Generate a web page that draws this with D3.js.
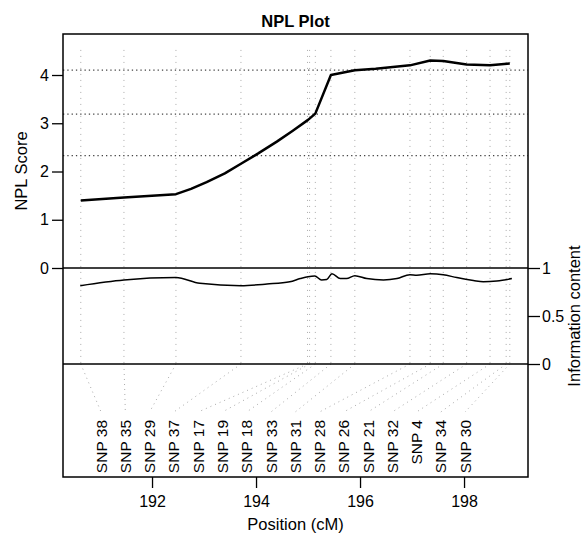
<!DOCTYPE html>
<html>
<head>
<meta charset="utf-8">
<script src="https://cdn.jsdelivr.net/npm/d3@7"></script>
<style>
  body { margin: 0; background: #fff; }
  svg text { font-family: "Liberation Sans", Arial, Helvetica, sans-serif; fill: #000; }
</style>
</head>
<body>
<div id="screen"></div>
<script>
var width = 585;
var height = 536;
var boxLeft = 63, boxRight = 528, boxTop = 34, boxBottom = 477;
var nplBottom = 268, infoBottom = 364;

// markers: name and map position (cM)
var markerNames = ["SNP 38", "SNP 35", "SNP 29", "SNP 37", "SNP 17", "SNP 19", "SNP 18", "SNP 33",
  "SNP 31", "SNP 28", "SNP 26", "SNP 21", "SNP 32", "SNP 4", "SNP 34", "SNP 30"];
var markerPos = [190.63, 191.46, 192.46, 193.71, 194.99, 195.03, 195.14, 195.44,
  195.90, 196.96, 197.35, 197.60, 198.05, 198.50, 198.81, 198.88];

// NPL score curve
var nplPos = [190.63, 191.46, 192.46, 192.75, 193.05, 193.4, 193.71, 194.05, 194.4, 194.7, 195.0, 195.14, 195.44,
  195.90, 196.3, 196.96, 197.35, 197.60, 198.05, 198.50, 198.88];
var nplScore = [1.40, 1.46, 1.53, 1.64, 1.78, 1.96, 2.16, 2.38, 2.62, 2.84, 3.07, 3.20, 4.00,
  4.10, 4.13, 4.20, 4.30, 4.29, 4.22, 4.20, 4.24];

// information content curve
var infoPos = [190.62, 191.46, 192.46, 192.92, 193.71, 194.21, 194.65, 194.85, 195.0, 195.13,
  195.26, 195.36, 195.46, 195.62, 195.74, 195.90, 196.13, 196.45, 196.71, 196.96, 197.09,
  197.35, 197.60, 197.86, 198.18, 198.37, 198.63, 198.92];
var infoVal = [0.816, 0.875, 0.90, 0.84, 0.816, 0.833, 0.857, 0.89, 0.91, 0.917,
  0.875, 0.88, 0.94, 0.89, 0.89, 0.92, 0.89, 0.875, 0.89, 0.93, 0.925,
  0.94, 0.93, 0.90, 0.87, 0.857, 0.865, 0.89];

var thresholds = [2.33, 3.19, 4.10];
var nplTicks = [0, 1, 2, 3, 4];
var infoTicks = [0, 0.5, 1];
var posTicks = [192, 194, 196, 198];

var x = d3.scaleLinear().domain([190.288, 199.23]).range([boxLeft, boxRight]);
var yNpl = d3.scaleLinear().domain([0, 4.85]).range([nplBottom, boxTop]);
var yInfo = d3.scaleLinear().domain([0, 1]).range([infoBottom, nplBottom]);
var labelX = d3.scalePoint().domain(markerNames).range([x(191.02), x(198.02)]);

var svg = d3.select("#screen").append("svg").attr("width", width).attr("height", height);

// marker grid lines
svg.append("g").selectAll("line").data(markerPos).enter().append("line")
  .attr("x1", function(d){ return x(d); }).attr("x2", function(d){ return x(d); })
  .attr("y1", yNpl(4.52)).attr("y2", infoBottom)
  .attr("stroke", "#aaa").attr("stroke-width", 1).attr("stroke-dasharray", "1,5");

// connectors from markers to labels
svg.append("g").selectAll("line").data(markerNames).enter().append("line")
  .attr("x1", function(d, i){ return x(markerPos[i]); })
  .attr("y1", infoBottom)
  .attr("x2", function(d){ return labelX(d); })
  .attr("y2", 412)
  .attr("stroke", "#aaa").attr("stroke-width", 1).attr("stroke-dasharray", "1,4");

// thresholds
svg.append("g").selectAll("line").data(thresholds).enter().append("line")
  .attr("x1", boxLeft).attr("x2", boxRight)
  .attr("y1", function(d){ return yNpl(d); }).attr("y2", function(d){ return yNpl(d); })
  .attr("stroke", "#444").attr("stroke-width", 1.3).attr("stroke-dasharray", "1.3,3");

// curves
svg.append("path").datum(nplPos)
  .attr("d", d3.line().x(function(d){ return x(d); }).y(function(d, i){ return yNpl(nplScore[i]); }))
  .attr("fill", "none").attr("stroke", "#000").attr("stroke-width", 2.5).attr("stroke-linejoin", "round");

svg.append("path").datum(infoPos)
  .attr("d", d3.line().x(function(d){ return x(d); }).y(function(d, i){ return yInfo(infoVal[i]); }).curve(d3.curveMonotoneX))
  .attr("fill", "none").attr("stroke", "#000").attr("stroke-width", 1.5);

// box and separators
svg.append("rect").attr("x", boxLeft).attr("y", boxTop).attr("width", boxRight - boxLeft).attr("height", boxBottom - boxTop)
  .attr("fill", "none").attr("stroke", "#000").attr("stroke-width", 1.5);
svg.append("line").attr("x1", boxLeft).attr("x2", boxRight).attr("y1", nplBottom).attr("y2", nplBottom)
  .attr("stroke", "#000").attr("stroke-width", 1.5);
svg.append("line").attr("x1", boxLeft).attr("x2", boxRight).attr("y1", infoBottom).attr("y2", infoBottom)
  .attr("stroke", "#000").attr("stroke-width", 1.5);

// axes
var styleAxis = function(g){
  g.attr("font-size", 16).attr("font-family", "Liberation Sans, Arial, sans-serif");
  g.select(".domain").remove();
  g.selectAll(".tick line").attr("stroke", "#000").attr("stroke-width", 1.3);
  g.selectAll(".tick text").attr("fill", "#000");
};

svg.append("g").attr("transform", "translate(" + boxLeft + ",0)")
  .call(d3.axisLeft(yNpl).tickValues(nplTicks).tickFormat(d3.format("d")).tickSize(11).tickPadding(3))
  .call(styleAxis);

svg.append("g").attr("transform", "translate(" + boxRight + ",0)")
  .call(d3.axisRight(yInfo).tickValues(infoTicks).tickFormat(function(d){ return String(d); }).tickSize(12).tickPadding(2))
  .call(styleAxis);

svg.append("g").attr("transform", "translate(0," + boxBottom + ")")
  .call(d3.axisBottom(x).tickValues(posTicks).tickFormat(d3.format("d")).tickSize(11).tickPadding(8))
  .call(styleAxis);

// marker labels
svg.append("g").selectAll("text").data(markerNames).enter().append("text")
  .attr("transform", function(d){ return "translate(" + labelX(d) + ",420) rotate(-90)"; })
  .attr("text-anchor", "end")
  .attr("dy", "0.36em")
  .attr("font-size", "15.5px")
  .text(function(d){ return d; });

// titles
svg.append("text").attr("x", (boxLeft + boxRight) / 2).attr("y", 26.5)
  .attr("text-anchor", "middle").attr("font-size", "16.5px").attr("font-weight", "bold")
  .text("NPL Plot");

svg.append("text").attr("x", (boxLeft + boxRight) / 2).attr("y", 530)
  .attr("text-anchor", "middle").attr("font-size", "16.5px")
  .text("Position (cM)");

svg.append("text").attr("transform", "translate(27,171) rotate(-90)")
  .attr("text-anchor", "middle").attr("font-size", "16.5px")
  .text("NPL Score");

svg.append("text").attr("transform", "translate(580," + (nplBottom + infoBottom) / 2 + ") rotate(-90)")
  .attr("text-anchor", "middle").attr("font-size", "16.5px")
  .text("Information content");
</script>
</body>
</html>
